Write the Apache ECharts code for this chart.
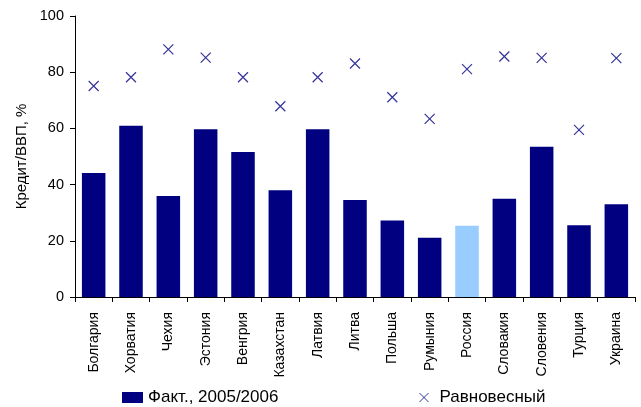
<!DOCTYPE html>
<html>
<head>
<meta charset="utf-8">
<script src="https://cdn.jsdelivr.net/npm/echarts@6/dist/echarts.min.js"></script>
<style>
  html, body { margin: 0; padding: 0; background: #fff; }
  #chart { width: 641px; height: 407px; }
</style>
</head>
<body>
<div id="chart"></div>
<script>
// Countries along the x axis
const countries = ['Болгария', 'Хорватия', 'Чехия', 'Эстония', 'Венгрия', 'Казахстан', 'Латвия',
  'Литва', 'Польша', 'Румыния', 'Россия', 'Словакия', 'Словения', 'Турция', 'Украина'];
// Actual credit-to-GDP ratio, 2005/2006, %
const actual = [44.1, 60.9, 35.9, 59.7, 51.6, 38.0, 59.7, 34.5, 27.2, 21.1, 25.4, 35.0, 53.5, 25.5, 33.0];
// Equilibrium credit-to-GDP ratio, %
const equilibrium = [75.1, 78.2, 88.1, 85.2, 78.2, 67.9, 78.2, 83.1, 71.1, 63.4, 81.1, 85.6, 85.1, 59.5, 85.0];
// Y axis range and step
const yMin = 0, yMax = 100, yStep = 20;

const highlight = 'Россия';
const navy = '#000080';
const lightBlue = '#99CCFF';
const font = 'Liberation Sans, Arial, sans-serif';
const crossPath = 'path://M0,0L10,10M10,0L0,10';

const chart = echarts.init(document.getElementById('chart'), null, { renderer: 'canvas' });
chart.setOption({
  animation: false,
  textStyle: { fontFamily: font },
  grid: { left: 75, right: 6, top: 16, bottom: 110, containLabel: false },
  legend: [
    {
      left: 122, top: 389, padding: 0, itemWidth: 21, itemHeight: 11, itemGap: 0,
      data: [{ name: 'Факт., 2005/2006', icon: 'rect', itemStyle: { color: navy } }],
      textStyle: { fontFamily: font, fontSize: 17, color: '#000' }
    },
    {
      left: 419, top: 389, padding: 0, itemWidth: 21, itemHeight: 9, itemGap: 0,
      data: [{ name: 'Равновесный', icon: crossPath,
        itemStyle: { color: 'transparent', borderColor: navy, borderWidth: 1 } }],
      textStyle: { fontFamily: font, fontSize: 17, color: '#000' }
    }
  ],
  xAxis: {
    type: 'category',
    data: countries,
    boundaryGap: true,
    axisLine: { lineStyle: { color: '#000', width: 1 } },
    axisTick: { show: true, alignWithLabel: false, length: 5, lineStyle: { color: '#000' } },
    axisLabel: { rotate: 90, fontSize: 14, color: '#000', fontFamily: font, margin: 15, interval: 0 }
  },
  yAxis: {
    type: 'value',
    min: yMin, max: yMax, interval: yStep,
    name: 'Кредит/ВВП, %',
    nameLocation: 'middle',
    nameGap: 46,
    nameTextStyle: { fontSize: 15, color: '#000', fontFamily: font },
    axisLine: { show: true, lineStyle: { color: '#000', width: 1 } },
    axisTick: { show: true, length: 5, lineStyle: { color: '#000' } },
    axisLabel: { fontSize: 14.5, color: '#000', fontFamily: font, margin: 11 },
    splitLine: { show: false }
  },
  series: [
    {
      name: 'Факт., 2005/2006',
      type: 'bar',
      barCategoryGap: '37%',
      data: actual.map((v, i) => ({
        value: v,
        itemStyle: { color: countries[i] === highlight ? lightBlue : navy }
      })),
      itemStyle: { color: navy }
    },
    {
      name: 'Равновесный',
      type: 'scatter',
      symbol: crossPath,
      symbolSize: 10,
      data: equilibrium,
      itemStyle: { color: 'transparent', borderColor: navy, borderWidth: 1.2 }
    }
  ]
});
</script>
</body>
</html>
